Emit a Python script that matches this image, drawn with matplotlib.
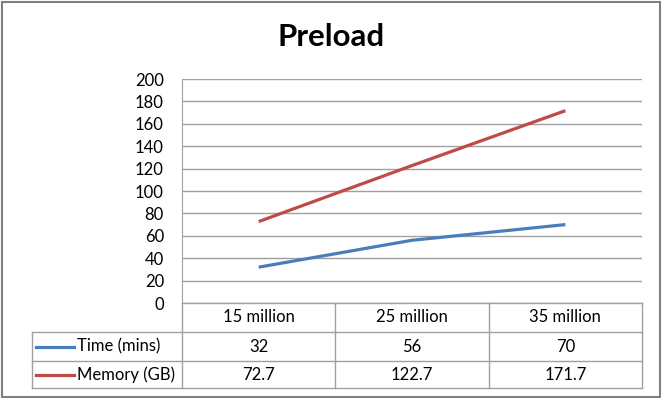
import matplotlib
matplotlib.use("Agg")
import matplotlib.pyplot as plt
from matplotlib.lines import Line2D
from matplotlib.patches import Rectangle

plt.rcParams["font.family"] = ["Lato", "DejaVu Sans"]

# ── data ────────────────────────────────────────────────────────────────────
categories = ["15 million", "25 million", "35 million"]
time_mins = [32, 56, 70]
memory_gb = [72.7, 122.7, 171.7]
time_labels = ["32", "56", "70"]
memory_labels = ["72.7", "122.7", "171.7"]
series_names = ["Time (mins)", "Memory (GB)"]
yticks = list(range(0, 201, 20))

BLUE = "#4a7ebb"
RED = "#be4b48"
GRID = "#a0a0a0"
FS = 12

W, H = 664, 398
fig = plt.figure(figsize=(W / 100, H / 100), dpi=100)


def fx(px):
    return px / W


def fy(py):
    return 1 - py / H


# plot area in pixel coords
L, R, T, B = 182, 642, 79, 303
ax = fig.add_axes([fx(L), fy(B), fx(R) - fx(L), fy(T) - fy(B)])

x = list(range(len(categories)))
ax.plot(x, time_mins, color=BLUE, lw=2.3, solid_capstyle="butt")
ax.plot(x, memory_gb, color=RED, lw=2.3, solid_capstyle="butt")
ax.set_xlim(-0.5, len(categories) - 0.5)
ax.set_ylim(0, 200)
ax.set_yticks(yticks)
ax.set_xticks([])
ax.tick_params(axis="y", length=0, pad=13, labelsize=FS)
ax.grid(axis="y", color=GRID, lw=1)
ax.set_axisbelow(True)
for side in ("top", "right", "bottom"):
    ax.spines[side].set_visible(False)
ax.spines["left"].set_color(GRID)

# ── data table under the plot ────────────────────────────────────────────────
rows = [B, 332, 361, 388]
col_w = (R - L) / len(categories)
cols = [L + i * col_w for i in range(len(categories) + 1)]
tleft = 32
kw = dict(color=GRID, lw=1, transform=fig.transFigure)

# horizontal lines
fig.add_artist(Line2D([fx(L), fx(R)], [fy(rows[0])] * 2, **kw))
for r in rows[1:]:
    fig.add_artist(Line2D([fx(tleft), fx(R)], [fy(r)] * 2, **kw))
# vertical lines
for c in cols:
    fig.add_artist(Line2D([fx(c)] * 2, [fy(rows[0]), fy(rows[-1])], **kw))
fig.add_artist(Line2D([fx(tleft)] * 2, [fy(rows[1]), fy(rows[-1])], **kw))

for i, cat in enumerate(categories):
    cx = (cols[i] + cols[i + 1]) / 2
    fig.text(fx(cx), fy((rows[0] + rows[1]) / 2), cat, ha="center",
             va="center", fontsize=FS)

for k, (name, color, labels) in enumerate(
        [(series_names[0], BLUE, time_labels),
         (series_names[1], RED, memory_labels)]):
    cy = (rows[k + 1] + rows[k + 2]) / 2
    fig.add_artist(Line2D([fx(36), fx(74)], [fy(cy)] * 2, color=color,
                          lw=2.3, transform=fig.transFigure))
    fig.text(fx(77), fy(cy), name, ha="left", va="center", fontsize=FS)
    for i, lab in enumerate(labels):
        cx = (cols[i] + cols[i + 1]) / 2
        fig.text(fx(cx), fy(cy), lab, ha="center", va="center", fontsize=FS)

# title and chart border
fig.text(fx(331), fy(37), "Preload", ha="center", va="center",
         fontsize=22.5, fontweight="bold")
fig.add_artist(Rectangle((fx(1.5), fy(396.5)), fx(658), fy(2) - fy(396.5),
                         fill=False, edgecolor="#7f7f7f", lw=1.5,
                         transform=fig.transFigure))

fig.savefig("out.png", dpi=100)
